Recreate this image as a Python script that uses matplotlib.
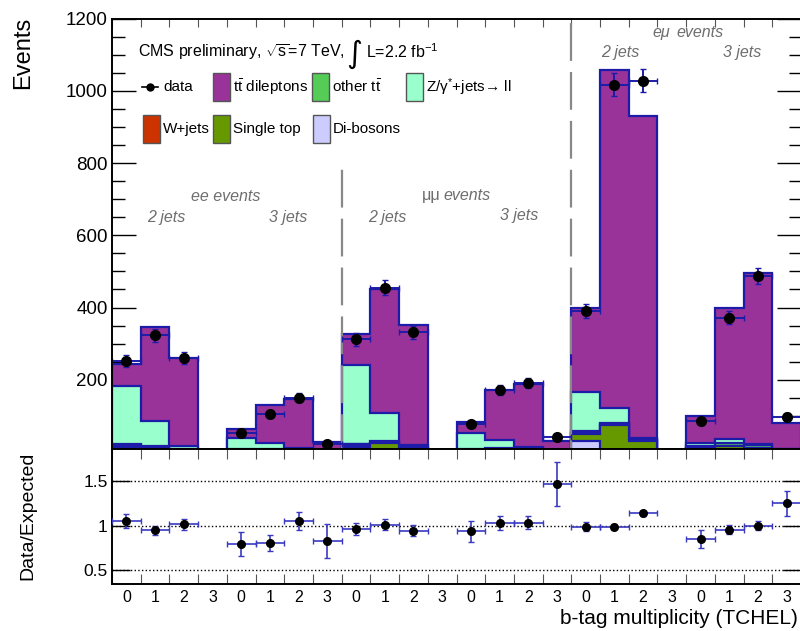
import numpy as np
import matplotlib
matplotlib.use("Agg")
import matplotlib.pyplot as plt
from matplotlib.patches import Rectangle
from matplotlib.lines import Line2D
from matplotlib.ticker import MultipleLocator

plt.rcParams['font.family'] = ['Liberation Sans', 'DejaVu Sans']
plt.rcParams['mathtext.fontset'] = 'custom'
plt.rcParams['mathtext.rm'] = 'Liberation Sans'
plt.rcParams['mathtext.it'] = 'Liberation Sans:italic'
plt.rcParams['mathtext.bf'] = 'Liberation Sans:bold'

# 24 bins: ee 2j, ee 3j, mumu 2j, mumu 3j, emu 2j, emu 3j  (b-tags 0..3 each)
btag_labels = ['0', '1', '2', '3'] * 6

# stacked MC, bottom -> top
dibosons   = [8, 4, 2, 0, 3, 2, 1, 0.5, 10, 5, 2, 0, 3, 2, 1, 0.5, 30, 3, 1, 0, 3, 2, 1, 0.2]
single_top = [6, 10, 4, 0, 1, 2, 2, 1, 8, 20, 6, 0, 1, 3, 3, 1, 20, 72, 30, 0, 8, 14, 10, 3]
wjets      = [6, 1, 0.5, 0, 1, 0.5, 0.5, 0, 3, 1, 0.5, 0, 1, 0.5, 0.5, 0, 3, 2, 1, 0, 1, 1, 0.5, 0]
other_tt   = [1, 2, 3, 0, 2, 4, 5, 2, 2, 4, 5, 0, 3, 5, 6, 2, 4, 3, 3, 0, 5, 9, 8, 4]
zjets      = [162, 70, 6, 0, 33, 17, 3, 2, 218, 79, 5, 0, 45, 24, 2, 1, 110, 41, 4, 0, 7, 9, 2, 1]
tt_dilep   = [62, 258, 245, 0, 25, 105, 134, 22, 86, 341, 334, 0, 31, 136, 176, 25, 233, 937, 890, 0, 76, 363, 474, 72]

nan = np.nan
data     = [252, 323, 261, nan, 52, 104, 150, 22, 312, 455, 331, nan, 77, 172, 191, 42, 390, 1017, 1028, nan, 85, 372, 487, 98]
data_err = [16, 18, 16, nan, 7, 10, 12, 5, 18, 21, 18, nan, 9, 13, 14, 6.5, 20, 32, 32, nan, 9, 19, 22, 10]

ratio     = [1.048, 0.948, 1.015, nan, 0.796, 0.807, 1.052, 0.833, 0.963, 1.011, 0.944, nan,
             0.937, 1.026, 1.033, 1.465, 0.99, 0.99, 1.137, nan, 0.847, 0.955, 1.0, 1.253]
ratio_err = [0.08, 0.05, 0.06, nan, 0.135, 0.09, 0.1, 0.19, 0.07, 0.06, 0.06, nan,
             0.12, 0.08, 0.07, 0.25, 0.05, 0.03, 0.03, nan, 0.1, 0.05, 0.05, 0.14]

layers = [dibosons, single_top, wjets, other_tt, zjets, tt_dilep]
colors = ['#ccccff', '#669900', '#cc3300', '#55cc55', '#99ffcc', '#993399']
line_blue = '#1c1ca8'

nb = len(btag_labels)
edges = np.arange(nb + 1)
centers = edges[:-1] + 0.5
cum = np.cumsum(np.array(layers, dtype=float), axis=0)

W, H = 800, 631
fig = plt.figure(figsize=(W / 100, H / 100), dpi=100)


def fx(px):
    return px / W


def fy(py):
    return 1 - py / H


ax = fig.add_axes([fx(112), fy(449.3), fx(801) - fx(112), fy(18.5) - fy(449.3)])
rax = fig.add_axes([fx(112), fy(584), fx(801) - fx(112), fy(449.3) - fy(584)])

# stack: draw largest first so smaller layers sit on top
for i in reversed(range(len(layers))):
    z = 2 + (len(layers) - i) * 0.1
    ax.stairs(cum[i], edges, fill=True, color=colors[i], zorder=z)
    ax.stairs(cum[i], edges, color=line_blue, lw=1.6, zorder=z + 0.05)

ax.errorbar(centers, data, yerr=data_err, xerr=0.5, fmt='o', color='black', ms=7,
            ecolor=line_blue, elinewidth=1.4, capsize=2, zorder=10)

# channel separators
for k, top in [(1, 800), (2, 1200)]:
    ax.vlines(8 * k, 0, top, colors='#888888', lw=1.6, linestyles=(0, (17, 5)), zorder=9)

gray = '#6e6e6e'
notes = [("ee events", 3.97, 708), ("2 jets", 1.88, 648), ("3 jets", 6.13, 648),
         ("events", 12.35, 711), ("2 jets", 9.58, 648), ("3 jets", 14.18, 656),
         ("events", 20.49, 1160), ("2 jets", 17.7, 1107), ("3 jets", 21.95, 1107)]
for t, x, y in notes:
    ax.text(x, y, t, color=gray, fontsize=11.5, style='italic', ha='center', va='center', zorder=11)
# greek channel names are upright in the original
ax.text(11.12, 711, "μμ", color=gray, fontsize=11.5, ha='center', va='center', zorder=11)
ax.text(19.12, 1160, "eμ", color=gray, fontsize=11.5, style='italic', ha='center', va='center', zorder=11)

ax.set_xlim(0, nb)
ax.set_ylim(7.5, 1200)
ax.yaxis.set_major_locator(MultipleLocator(200))
ax.yaxis.set_minor_locator(MultipleLocator(50))
ax.tick_params(axis='y', which='major', direction='in', length=17, width=1, right=True, labelsize=13.5, pad=3)
ax.tick_params(axis='y', which='minor', direction='in', length=9, width=1, right=True)
ax.set_xticks(edges)
ax.tick_params(axis='x', direction='in', top=True, bottom=False, labelbottom=False, length=6, color='#555555')
for s in ax.spines.values():
    s.set_linewidth(1.4)
    s.set_zorder(12)

# legend / header
fig.text(fx(138), fy(52), r"CMS preliminary, $\sqrt{\mathrm{s}}$=7 TeV,", fontsize=11.5, ha='left', va='center')
fig.text(fx(354), fy(54), "∫", fontsize=22, ha='center', va='center', family='DejaVu Sans')
fig.text(fx(366), fy(52), r"L=2.2 fb$^{-1}$", fontsize=11.5, ha='left', va='center')
fig.add_artist(Line2D([fx(142), fx(158)], [fy(87), fy(87)], color='black', lw=1.2))
fig.add_artist(Line2D([fx(150)], [fy(87)], marker='o', ms=5, color='black'))
fig.text(fx(163), fy(87), "data", fontsize=11, ha='left', va='center')
legend_boxes = [(5, r"$\mathrm{t\bar{t}}$ dileptons", 213, 87), (3, r"other $\mathrm{t\bar{t}}$", 312, 87),
                (4, r"Z/γ$^{*}$+jets→ ll", 406, 87), (2, "W+jets", 143, 129),
                (1, "Single top", 213, 129), (0, "Di-bosons", 313, 129)]
for idx, label, bx, by in legend_boxes:
    fig.add_artist(Rectangle((fx(bx), fy(by + 14)), fx(17), 28 / H, facecolor=colors[idx],
                             edgecolor='#555555', lw=1, transform=fig.transFigure))
    fig.text(fx(bx + 20), fy(by), label, fontsize=11, ha='left', va='center')

# ratio panel
rax.errorbar(centers, ratio, yerr=ratio_err, xerr=0.5, fmt='o', color='black', ms=5.5,
             ecolor='#3a3ac0', elinewidth=1.2, capsize=2, zorder=10)
rax.set_xlim(0, nb)
rax.set_ylim(0.347, 1.854)
rax.set_yticks([0.5, 1, 1.5])
rax.set_yticklabels(['0.5', '1', '1.5'])
rax.tick_params(axis='y', direction='in', length=13, width=1, right=True, labelsize=12.5, pad=3)
rax.yaxis.grid(True, linestyle=':', color='black', lw=1)
rax.set_xticks(edges)
rax.set_xticklabels([])
rax.set_xticks(centers, minor=True)
rax.set_xticklabels(btag_labels, minor=True)
rax.tick_params(axis='x', which='major', direction='in', top=True, bottom=True, length=7, color='#555555')
rax.tick_params(axis='x', which='minor', length=0, labelsize=11.5, pad=4)
for s in rax.spines.values():
    s.set_linewidth(1.4)

fig.text(fx(23), fy(17), "Events", rotation=90, ha='center', va='top', fontsize=17)
fig.text(fx(28), fy(516), "Data/Expected", rotation=90, ha='center', va='center', fontsize=14)
fig.text(fx(798), fy(618), "b-tag multiplicity (TCHEL)", ha='right', va='center', fontsize=15)

fig.savefig("out.png", dpi=100)
